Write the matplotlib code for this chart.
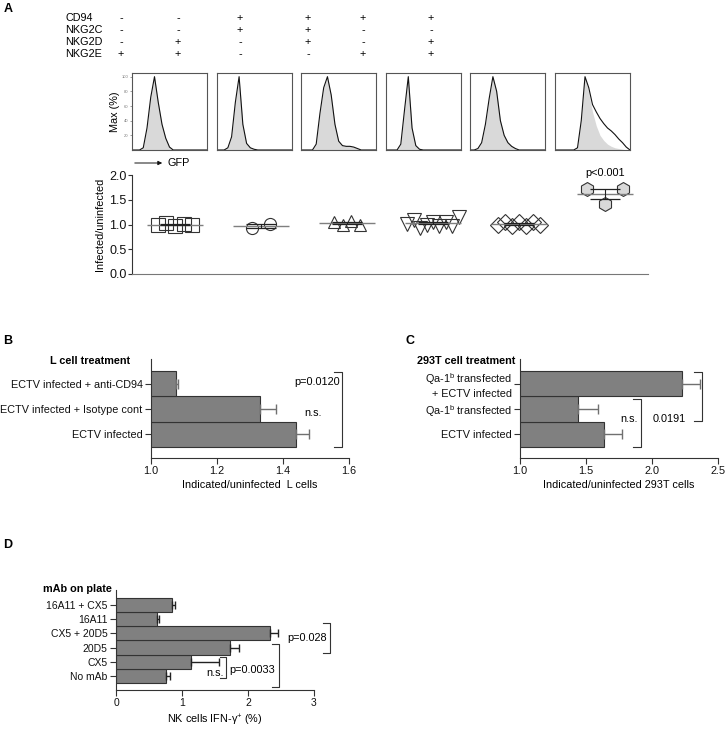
import numpy as np
import matplotlib
matplotlib.use('Agg')
import matplotlib.pyplot as plt

plt.rcParams['font.family'] = ['Liberation Sans', 'DejaVu Sans']
plt.rcParams['mathtext.fontset'] = 'custom'
plt.rcParams['mathtext.rm'] = 'Liberation Sans'
plt.rcParams['mathtext.it'] = 'Liberation Sans:italic'
plt.rcParams['mathtext.bf'] = 'Liberation Sans:bold'
plt.rcParams['font.size'] = 7.8

# ---- panel A data ----
receptors = ['CD94', 'NKG2C', 'NKG2D', 'NKG2E']
cd94 = ['-', '-', '+', '+', '+', '+']
nkg2c = ['-', '-', '+', '+', '-', '-']
nkg2d = ['-', '+', '-', '+', '-', '+']
nkg2e = ['+', '+', '-', '-', '+', '+']

# histograms (% of max), read every 5% along the GFP axis
gfp = np.linspace(0, 1, 21)
hist1 = [0, 0, 0, 3, 30, 72, 100, 65, 35, 16, 4, 0, 0, 0, 0, 0, 0, 0, 0, 0, 0]
hist2 = [0, 0, 0, 3, 18, 65, 100, 35, 9, 3, 1, 0, 0, 0, 0, 0, 0, 0, 0, 0, 0]
hist3 = [0, 0, 0, 0, 8, 50, 85, 100, 75, 35, 12, 6, 5, 5, 4, 2, 0, 0, 0, 0, 0]
hist4 = [0, 0, 0, 0, 8, 55, 100, 30, 6, 1, 0, 0, 0, 0, 0, 0, 0, 0, 0, 0, 0]
hist5 = [0, 0, 2, 10, 35, 70, 100, 80, 40, 20, 10, 5, 2, 0, 0, 0, 0, 0, 0, 0, 0]
hist6_uninf = [0, 0, 0, 0, 0, 0, 3, 40, 100, 78, 52, 33, 20, 13, 8, 5, 3, 2, 1, 0, 0]
hist6_inf = [0, 0, 0, 0, 0, 0, 3, 40, 100, 85, 62, 52, 43, 36, 30, 26, 21, 15, 10, 4, 0]

# infected/uninfected ratios
squares = [1.00, 1.04, 0.96, 1.01, 0.98]
circles = [0.93, 1.01]
triangles = [1.06, 0.98, 1.07, 1.00]
inv_triangles = [1.02, 1.10, 0.93, 0.98, 1.06, 0.96, 1.05, 0.97, 1.15]
diamonds = [1.00, 1.05, 0.96, 1.05, 0.96, 1.05, 1.00]
hexagons = [1.72, 1.41, 1.72]

# ---- panel B ----
b_labels = ['ECTV infected', 'ECTV infected + Isotype cont', 'ECTV infected + anti-CD94']
b_vals = [1.44, 1.33, 1.076]
b_err = [0.04, 0.05, 0.006]

# ---- panel C ----
c_labels = ['ECTV infected', 'Qa-1$^{\\mathrm{b}}$ transfected',
            'Qa-1$^{\\mathrm{b}}$ transfected\n+ ECTV infected']
c_vals = [1.64, 1.44, 2.23]
c_err = [0.13, 0.15, 0.13]

# ---- panel D ----
d_labels = ['No mAb', 'CX5', '20D5', 'CX5 + 20D5', '16A11', '16A11 + CX5']
d_vals = [0.75, 1.13, 1.72, 2.34, 0.62, 0.85]
d_err = [0.07, 0.43, 0.15, 0.12, 0.03, 0.04]

W, H = 726, 730
fig = plt.figure(figsize=(W / 100, H / 100), dpi=100)


def rect(x0, y0, x1, y1):
    return [x0 / W, 1 - y1 / H, (x1 - x0) / W, (y1 - y0) / H]


def ftext(x, y, s, **kw):
    fig.text(x / W, 1 - y / H, s, **kw)


def bracket(ax, x, y0, y1, tick):
    ax.plot([x - tick, x, x, x - tick], [y0, y0, y1, y1], color='#333333',
            lw=0.8, clip_on=False)


dark = '#333333'
narrow = ['Liberation Sans Narrow', 'Liberation Sans', 'DejaVu Sans']

# panel letters
ftext(4, 9, 'A', fontsize=9, fontweight='bold', ha='left', va='center')
ftext(3, 341, 'B', fontsize=9, fontweight='bold', ha='left', va='center')
ftext(405, 341, 'C', fontsize=9, fontweight='bold', ha='left', va='center')
ftext(3, 545, 'D', fontsize=9, fontweight='bold', ha='left', va='center')

# receptor table
col_x = [121, 178, 240, 308, 363, 431]
row_y = [18, 30, 42, 54]
for name, signs, y in zip(receptors, [cd94, nkg2c, nkg2d, nkg2e], row_y):
    ftext(65, y, name, ha='left', va='center', family=narrow, fontsize=7.8)
    for s, x in zip(signs, col_x):
        ftext(x, y, s, ha='center', va='center', family=narrow, fontsize=7.8)

# histograms
hists = [hist1, hist2, hist3, hist4, hist5, hist6_uninf]
for i, h in enumerate(hists):
    left = 132 + i * 84.6
    ax = fig.add_axes(rect(left, 73, left + 75, 150))
    ax.fill_between(gfp, h, color='#d9d9d9', lw=0)
    if i == 5:
        ax.plot(gfp, hist6_inf, color='#111111', lw=0.8)
    else:
        ax.plot(gfp, h, color='#111111', lw=0.8)
    ax.set_xlim(0, 1)
    ax.set_ylim(0, 105)
    for sp in ax.spines.values():
        sp.set_color('#555555')
        sp.set_linewidth(0.8)
    ax.set_xticks([])
    if i == 0:
        ax.set_yticks([20, 40, 60, 80, 100])
        ax.tick_params(axis='y', labelsize=3, length=1.5, width=0.5, pad=1,
                       colors='#777777')
        ax.set_ylabel('Max (%)', fontsize=7.8, labelpad=1)
    else:
        ax.set_yticks([])

# GFP arrow
fig.add_artist(matplotlib.patches.FancyArrowPatch(
    (132 / W, 1 - 163 / H), (165 / W, 1 - 163 / H), transform=fig.transFigure,
    arrowstyle='-|>', mutation_scale=6, color='#111111', lw=0.7))
ftext(167, 163, 'GFP', ha='left', va='center')

# ratio scatter
ax = fig.add_axes(rect(132, 175, 648, 274))
groups = [squares, circles, triangles, inv_triangles, diamonds, hexagons]
markers = ['s', 'o', '^', 'v', 'D', 'h']
sizes = [10, 8.7, 9, 10, 8.5, 10]
spreads = [0.2, 0.1, 0.15, 0.3, 0.24, 0.21]
for i, (g, m, ms, sp) in enumerate(zip(groups, markers, sizes, spreads)):
    g = np.array(g)
    xs = i + np.linspace(-sp, sp, len(g))
    face = '#d9d9d9' if m == 'h' else 'none'
    ax.plot(xs, g, ls='none', marker=m, ms=ms, mfc=face, mec=dark, mew=0.8,
            clip_on=False)
    mean = g.mean()
    sem = g.std(ddof=1) / np.sqrt(len(g))
    ax.hlines(mean, i - 0.33, i + 0.33, color='#7f7f7f', lw=1)
    ax.errorbar([i], [mean], yerr=[sem], fmt='none', ecolor='#222222',
                elinewidth=0.8, capsize=11, capthick=0.9)
ax.text(5, 2.04, 'p<0.001', ha='center', va='center', clip_on=False)
ax.set_xlim(-0.5, 5.5)
ax.set_ylim(0, 2.0)
ax.set_yticks([0, 0.5, 1.0, 1.5, 2.0])
ax.set_yticklabels(['0.0', '0.5', '1.0', '1.5', '2.0'])
ax.set_xticks([])
ax.spines['top'].set_visible(False)
ax.spines['right'].set_visible(False)
ax.spines['bottom'].set_color('#777777')
ax.spines['left'].set_color(dark)
ax.tick_params(axis='y', length=3, width=0.8, pad=1, colors=dark,
               labelcolor='#111111', labelsize=9)
ax.set_ylabel('Infected/uninfected', labelpad=3)


def bar_panel(ax, labels, vals, err, ecol, capsize):
    y = np.arange(len(vals))
    ax.barh(y, vals, height=1.0, color='#808080', edgecolor=dark, lw=0.8)
    ax.errorbar(vals, y, xerr=[np.zeros(len(err)), err], fmt='none',
                ecolor=ecol, elinewidth=1, capsize=capsize, capthick=1)
    ax.set_yticks(y)
    ax.set_yticklabels(labels)
    ax.spines['top'].set_visible(False)
    ax.spines['right'].set_visible(False)
    for sp in ['left', 'bottom']:
        ax.spines[sp].set_color(dark)
        ax.spines[sp].set_linewidth(0.8)
    ax.tick_params(length=4, width=0.8, pad=2, colors=dark, labelcolor='#111111')


# panel B
ax = fig.add_axes(rect(151, 359, 349, 458))
bar_panel(ax, b_labels, b_vals, b_err, '#707070', 3.5)
ax.set_xlim(1.0, 1.6)
ax.set_ylim(-0.94, 2.97)
ax.set_xticks([1.0, 1.2, 1.4, 1.6])
ax.set_xlabel('Indicated/uninfected  L cells', labelpad=3)
bracket(ax, 1.579, -0.5, 2.47, 0.024)
ax.text(1.573, 2.07, 'p=0.0120', ha='right', va='center')
ax.text(1.49, 0.84, 'n.s.', ha='center', va='center')
ftext(130, 361, 'L cell treatment', ha='right', va='center', fontweight='bold')

# panel C
ax = fig.add_axes(rect(520, 359, 718, 458))
bar_panel(ax, c_labels, c_vals, c_err, '#707070', 3.5)
ax.set_xlim(1.0, 2.5)
ax.set_ylim(-0.94, 2.97)
ax.set_xticks([1.0, 1.5, 2.0, 2.5])
ax.set_xlabel('Indicated/uninfected 293T cells', labelpad=3)
bracket(ax, 1.917, -0.5, 1.39, 0.06)
bracket(ax, 2.38, 0.52, 2.46, 0.06)
ax.text(1.826, 0.6, 'n.s.', ha='center', va='center')
ax.text(2.13, 0.6, '0.0191', ha='center', va='center')
ftext(515, 361, '293T cell treatment', ha='right', va='center', fontweight='bold')

# panel D
ax = fig.add_axes(rect(116, 590, 314, 690))
bar_panel(ax, d_labels, d_vals, d_err, '#222222', 3)
ax.tick_params(labelsize=7.5)
ax.set_xlim(0, 3)
ax.set_ylim(-0.99, 6.06)
ax.set_xticks([0, 1, 2, 3])
ax.set_xlabel('NK cells IFN-γ$^{+}$ (%)', labelpad=3)
bracket(ax, 3.24, 1.62, 3.74, 0.1)
bracket(ax, 2.47, -0.78, 2.25, 0.1)
bracket(ax, 1.67, -0.15, 1.34, 0.1)
ax.text(2.89, 2.68, 'p=0.028', ha='center', va='center')
ax.text(2.07, 0.42, 'p=0.0033', ha='center', va='center')
ax.text(1.5, 0.21, 'n.s.', ha='center', va='center')
ftext(112, 589, 'mAb on plate', ha='right', va='center', fontweight='bold')

fig.savefig('out.png', dpi=100)
